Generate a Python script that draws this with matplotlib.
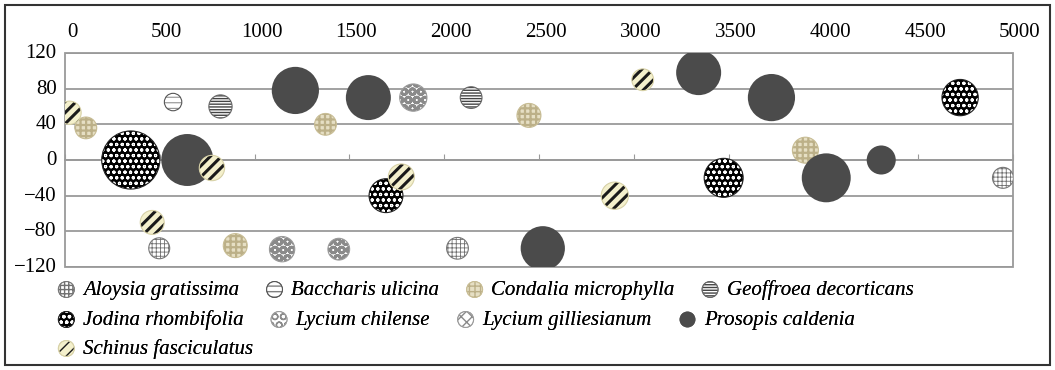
import matplotlib
matplotlib.use("Agg")
import matplotlib.pyplot as plt
from matplotlib.patches import Rectangle
from matplotlib.collections import PathCollection
from matplotlib.legend_handler import HandlerPathCollection, HandlerTuple
import matplotlib.transforms as mtransforms

plt.rcParams['font.family'] = ['Liberation Serif', 'DejaVu Serif']
plt.rcParams['hatch.linewidth'] = 1.0

# Data (x, y, bubble size) per species
aloysia_x = [497, 2070, 4947]
aloysia_y = [-99, -99, -20]
aloysia_z = [13, 14, 13]

baccharis_x = [570]
baccharis_y = [65]
baccharis_z = [9]

condalia_x = [110, 898, 1374, 2447, 3905]
condalia_y = [36, -96, 40, 50, 11]
condalia_z = [14, 17, 14, 17, 20]

geoffroea_x = [820, 2142]
geoffroea_y = [60, 70]
geoffroea_z = [16, 14]

jodina_x = [347, 1693, 3474, 4721]
jodina_y = [0, -40, -20, 70]
jodina_z = [100, 34, 45, 39]

lch_x = [1145, 1444, 1837]
lch_y = [-100, -100, 70]
lch_z = [19, 14, 22]

lgi_x = [90, 1565]
lgi_y = [37, 80]
lgi_z = [6, 14]

prosopis_x = [645, 1215, 1600, 2520, 3342, 3726, 4015, 4305]
prosopis_y = [0, 78, 70, -99, 98, 70, -20, 0]
prosopis_z = [80, 66, 60, 58, 60, 66, 71, 25]

schinus_x = [24, 460, 775, 1774, 2900, 3047]
schinus_y = [53, -70, -9, -19, -40, 90]
schinus_z = [16, 17, 19, 20, 22, 14]

x_ticks = [0, 500, 1000, 1500, 2000, 2500, 3000, 3500, 4000, 4500, 5000]
y_ticks = [-120, -80, -40, 0, 40, 80, 120]

# name, data, face, hatch, hatch colour, hatch lw, outline colour
series = [
    ('Lycium gilliesianum', lgi_x, lgi_y, lgi_z, 'white', 'xxx', '#8a8a8a', 0.6, '#9a9a9a'),
    ('Aloysia gratissima', aloysia_x, aloysia_y, aloysia_z, 'white', '++++', '#707070', 0.6, '#777777'),
    ('Baccharis ulicina', baccharis_x, baccharis_y, baccharis_z, 'white', '---', '#808080', 0.7, '#555555'),
    ('Condalia microphylla', condalia_x, condalia_y, condalia_z, '#e6dfc4', '+++', '#bcb088', 1.6, '#c8bd95'),
    ('Geoffroea decorticans', geoffroea_x, geoffroea_y, geoffroea_z, 'white', '------', '#444444', 1.0, '#666666'),
    ('Jodina rhombifolia', jodina_x, jodina_y, jodina_z, 'black', 'ooo', 'white', 0.8, '#222222'),
    ('Lycium chilense', lch_x, lch_y, lch_z, 'white', 'OO', '#8a8a8a', 2.0, '#9a9a9a'),
    ('Prosopis caldenia', prosopis_x, prosopis_y, prosopis_z, '#4b4b4b', None, '#4b4b4b', 1.0, 'none'),
    ('Schinus fasciculatus', schinus_x, schinus_y, schinus_z, '#f4f0cc', '///', '#1a1a1a', 2.2, '#d8d2a8'),
]

fig = plt.figure(figsize=(10.55, 3.70), dpi=100)
ax = fig.add_axes([65 / 1055, 1 - 267 / 370, 948 / 1055, 214 / 370])

size_scale = 17.5  # points^2 per size unit
handles = {}
for i, (name, xs, ys, zs, face, hatch, hcol, hlw, ecol) in enumerate(series):
    sizes = [z * size_scale for z in zs]
    with plt.rc_context({'hatch.linewidth': hlw}):
        sc = ax.scatter(xs, ys, s=sizes, facecolors=face, edgecolors=hcol,
                        linewidths=0, hatch=hatch, zorder=3 + i)
    ol = ax.scatter(xs, ys, s=sizes, facecolors='none', edgecolors=ecol,
                    linewidths=0.8, zorder=3 + i)
    handles[name] = (sc, ol)

ax.set_xlim(0, 5000)
ax.set_ylim(-120, 120)
ax.set_xticks(x_ticks)
ax.set_yticks(y_ticks)
ax.grid(axis='y', color='#9a9a9a', linewidth=1.3)
ax.set_axisbelow(True)

for s in ['top', 'left', 'right']:
    ax.spines[s].set_visible(False)
ax.spines['bottom'].set_position(('data', 0))
ax.spines['bottom'].set_color('#9a9a9a')
ax.spines['bottom'].set_linewidth(1.3)
ax.patch.set_edgecolor('#9a9a9a')
ax.patch.set_linewidth(1.3)

ax.tick_params(axis='x', bottom=True, top=False, labelbottom=False, labeltop=True,
               direction='in', length=4, color='#9a9a9a', pad=8, labelsize=15)
ax.tick_params(axis='y', length=0, pad=6, labelsize=15)

# tick labels sit slightly right of / above their ticks
xshift = mtransforms.ScaledTranslation(7 / 100, 0, fig.dpi_scale_trans)
for lab in ax.get_xticklabels(which='major'):
    lab.set_transform(lab.get_transform() + xshift)
yshift = mtransforms.ScaledTranslation(0, 2 / 100, fig.dpi_scale_trans)
for lab in ax.get_yticklabels(which='major'):
    lab.set_transform(lab.get_transform() + yshift)

# legend as three flowing rows
rows = [
    (['Aloysia gratissima', 'Baccharis ulicina', 'Condalia microphylla', 'Geoffroea decorticans'], 290),
    (['Jodina rhombifolia', 'Lycium chilense', 'Lycium gilliesianum', 'Prosopis caldenia'], 320),
    (['Schinus fasciculatus'], 349),
]
hmap = {PathCollection: HandlerPathCollection(sizes=[130]),
        tuple: HandlerTuple(ndivide=1)}
for names, ypix in rows:
    leg = fig.legend([handles[n] for n in names], names, loc='center left',
                     bbox_to_anchor=(58 / 1055, 1 - ypix / 370), ncol=len(names),
                     frameon=False, borderpad=0, borderaxespad=0, handlelength=0.8,
                     handletextpad=0.4, columnspacing=1.3, scatterpoints=1,
                     handler_map=hmap, prop={'style': 'italic', 'size': 15})
    fig.add_artist(leg)

fig.add_artist(Rectangle((5 / 1055, 5 / 370), 1045 / 1055, 360 / 370, transform=fig.transFigure,
                         fill=False, edgecolor='#333333', linewidth=1.5))

fig.savefig('out.png', dpi=100)
